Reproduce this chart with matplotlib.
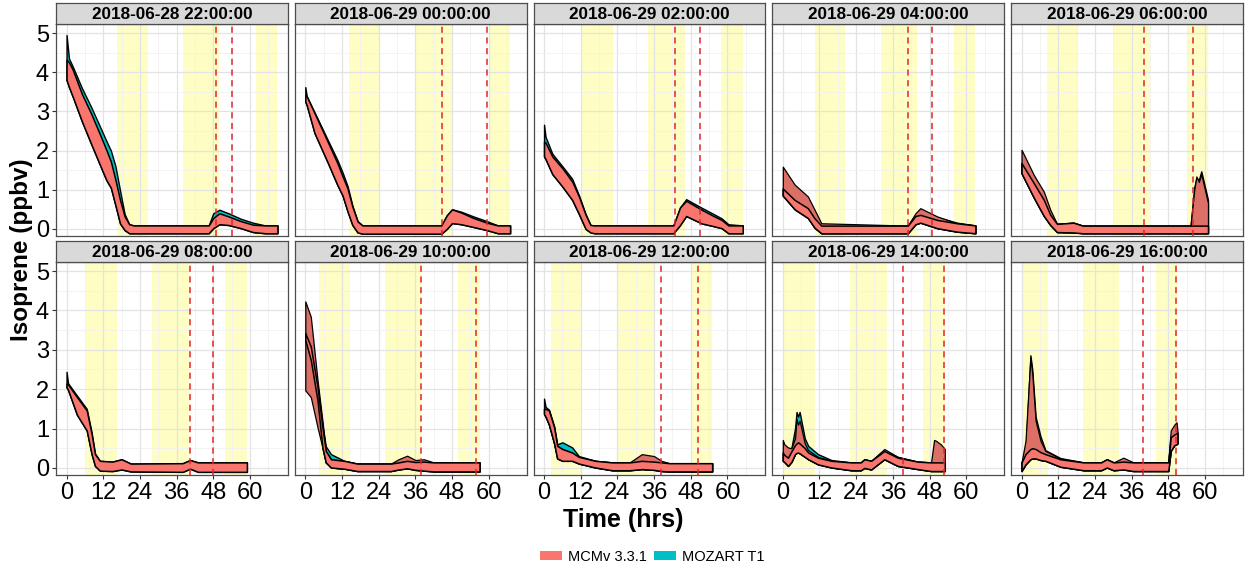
import numpy as np
import matplotlib
matplotlib.use('Agg')
import matplotlib.pyplot as plt
from matplotlib.patches import Patch

plt.rcParams['font.family'] = ['Liberation Sans', 'DejaVu Sans']

### data (hours since each run start, isoprene ppbv)

run_starts = ['2018-06-28 22:00:00', '2018-06-29 00:00:00', '2018-06-29 02:00:00',
              '2018-06-29 04:00:00', '2018-06-29 06:00:00', '2018-06-29 08:00:00',
              '2018-06-29 10:00:00', '2018-06-29 12:00:00', '2018-06-29 14:00:00',
              '2018-06-29 16:00:00']
run_offset = [0, 2, 4, 6, 8, 10, 12, 14, 16, 18]      # hours after first run start
run_end = [69, 67, 65, 63, 61, 59, 57, 55, 53, 51]

# daylight periods, hours after first run start
day_start = [16.4, 38.0, 62.0]
day_end = [26.5, 50.0, 74.0]

# red dashed markers (hours since run start)
mark_a = [48.9, 44.6, 43.0, 41.0, 40.1, 40.4, 37.8, 38.1, 39.4, 39.7]
mark_b = [54.0, 59.6, 51.1, 48.9, 56.0, 47.9, 55.7, 50.5, 52.8, 50.5]

times = [
    [0, 0.8, 2, 5, 8, 11, 13, 14.5, 16, 17.5, 19, 20.5, 22, 46.5, 48, 50, 53, 57, 61, 65, 69],
    [0, 0.5, 3, 7.3, 10.5, 12.2, 13.8, 15.4, 17.1, 18.7, 44.5, 46.3, 48, 51, 55, 59.4, 63, 67],
    [0, 0.5, 2.7, 6.0, 9.2, 11.4, 13.6, 15.2, 16.5, 42.3, 44.5, 46.5, 51.6, 55, 58.1, 60.3, 65],
    [0, 3.9, 8.2, 10.4, 12.6, 40.9, 43.4, 45, 50.5, 57, 63],
    [0, 4.0, 7.3, 9.4, 11.6, 17, 20, 55.3, 56.5, 57.2, 58.0, 58.8, 61],
    [0, 0.5, 3.4, 6.6, 8.2, 9.3, 10.9, 15, 18, 21, 38, 40.4, 43, 59],
    [0, 1.8, 4.0, 5.6, 6.7, 8.4, 12.7, 17, 28, 30.5, 33.3, 36, 38.8, 42, 57],
    [0, 0.5, 1.6, 3.3, 4.3, 6.0, 9.2, 11.4, 16.8, 22.3, 28, 32, 36, 38.4, 41, 55],
    [0, 0.5, 1.7, 2.8, 4.0, 4.5, 5.0, 5.5, 7.2, 8.3, 11.5, 15.9, 22.4, 25.5, 26.7, 28.9,
     33.2, 37.6, 44.1, 48.5, 49.5, 50.1, 51.7, 53],
    [0, 1.3, 2.9, 3.5, 4.6, 6.2, 7.8, 12.7, 20.3, 26, 27.9, 30.1, 33.3, 36.6, 48, 48.8,
     50, 50.7, 51],
]

# MCMv 3.3.1 band
mcm_lo = [
    [3.80, 3.62, 3.38, 2.75, 2.18, 1.62, 1.25, 1.05, 0.60, 0.14, -0.03, -0.11, -0.11, -0.11,
     0.02, 0.12, 0.10, 0.02, -0.08, -0.11, -0.11],
    [3.25, 3.15, 2.45, 1.70, 1.12, 0.85, 0.45, 0.10, -0.09, -0.12, -0.12, 0.00, 0.15, 0.12,
     0.05, -0.03, -0.11, -0.11],
    [1.85, 1.78, 1.40, 1.08, 0.74, 0.38, 0.00, -0.09, -0.11, -0.11, 0.10, 0.33, 0.14, 0.08,
     0.02, -0.11, -0.11],
    [0.85, 0.50, 0.28, 0.03, -0.11, -0.11, 0.12, 0.16, 0.02, -0.07, -0.11],
    [1.42, 0.80, 0.33, 0.10, -0.08, -0.09, -0.11, -0.11, -0.11, -0.11, -0.11, -0.11, -0.11],
    [2.05, 1.98, 1.35, 0.95, 0.35, 0.05, -0.07, -0.08, -0.04, -0.09, -0.10, -0.02, -0.10, -0.10],
    [3.25, 2.74, 1.71, 0.52, 0.14, 0.01, -0.02, -0.08, -0.08, -0.04, -0.01, -0.05, -0.07,
     -0.09, -0.09],
    [1.37, 1.30, 1.10, 0.62, 0.24, 0.18, 0.18, 0.11, 0.01, -0.06, -0.06, -0.03, -0.05, -0.08,
     -0.09, -0.09],
    [0.18, 0.15, 0.05, 0.15, 0.35, 0.38, 0.39, 0.37, 0.28, 0.22, 0.09, 0.01, -0.06, -0.06,
     0.0, -0.04, 0.22, 0.05, -0.03, -0.08, -0.08, -0.08, -0.08, -0.08],
    [-0.08, 0.09, 0.22, 0.24, 0.24, 0.20, 0.18, 0.03, -0.06, -0.06, 0.01, -0.06, -0.04, -0.08,
     -0.08, 0.43, 0.58, 0.60, 0.62],
]
mcm_hi = [
    [4.32, 4.25, 4.07, 3.45, 2.95, 2.40, 2.02, 1.72, 1.25, 0.74, 0.32, 0.12, 0.09, 0.09,
     0.28, 0.40, 0.32, 0.20, 0.11, 0.09, 0.09],
    [3.40, 3.38, 2.96, 2.23, 1.68, 1.34, 1.04, 0.57, 0.19, 0.09, 0.09, 0.35, 0.50, 0.42,
     0.28, 0.16, 0.09, 0.09],
    [2.23, 2.20, 1.85, 1.55, 1.21, 0.83, 0.36, 0.10, 0.09, 0.09, 0.55, 0.72, 0.49, 0.35,
     0.23, 0.09, 0.09],
    [1.03, 0.74, 0.53, 0.27, 0.085, 0.085, 0.33, 0.36, 0.23, 0.145, 0.09],
    [1.68, 1.17, 0.74, 0.36, 0.13, 0.16, 0.085, 0.085, 0.085, 0.085, 0.085, 0.085, 0.085],
    [2.14, 2.12, 1.80, 1.46, 0.86, 0.35, 0.18, 0.16, 0.22, 0.11, 0.12, 0.20, 0.14, 0.14],
    [3.42, 3.08, 2.05, 1.03, 0.43, 0.22, 0.18, 0.11, 0.11, 0.14, 0.18, 0.15, 0.16, 0.14, 0.14],
    [1.50, 1.50, 1.46, 1.03, 0.56, 0.48, 0.39, 0.28, 0.18, 0.14, 0.14, 0.18, 0.16, 0.14,
     0.12, 0.12],
    [0.39, 0.33, 0.26, 0.42, 0.58, 0.62, 0.65, 0.62, 0.50, 0.39, 0.26, 0.18, 0.14, 0.14,
     0.22, 0.18, 0.43, 0.26, 0.16, 0.14, 0.14, 0.14, 0.14, 0.14],
    [0.14, 0.35, 0.48, 0.50, 0.48, 0.40, 0.35, 0.22, 0.14, 0.14, 0.22, 0.14, 0.16, 0.14,
     0.14, 0.78, 0.85, 0.88, 0.90],
]
# MCM run spread (outer envelope), None where it stays inside the band
mcm_env_lo = [None, None, None, None, None, None,
              [1.97, 1.80, 1.03, 0.52, 0.14, 0.01, -0.02, -0.08, -0.08, -0.04, -0.01, -0.05,
               -0.07, -0.09, -0.09],
              None, None, None]
mcm_env_hi = [
    None, None, None,
    [1.59, 1.13, 0.83, 0.49, 0.145, 0.085, 0.40, 0.53, 0.32, 0.145, 0.09],
    [2.02, 1.38, 0.95, 0.49, 0.13, 0.16, 0.085, 0.085, 1.00, 1.34, 1.20, 1.40, 0.66],
    None,
    [4.23, 3.84, 2.23, 1.20, 0.43, 0.22, 0.18, 0.11, 0.11, 0.22, 0.31, 0.20, 0.22, 0.14, 0.14],
    [1.50, 1.50, 1.46, 1.03, 0.56, 0.48, 0.39, 0.28, 0.18, 0.14, 0.14, 0.35, 0.30, 0.18,
     0.12, 0.12],
    [0.71, 0.60, 0.52, 0.50, 0.75, 1.25, 1.10, 1.20, 0.62, 0.45, 0.28, 0.18, 0.14, 0.14,
     0.22, 0.18, 0.48, 0.28, 0.16, 0.14, 0.71, 0.69, 0.60, 0.48],
    [0.14, 0.69, 2.80, 2.40, 1.20, 0.69, 0.43, 0.24, 0.14, 0.14, 0.22, 0.14, 0.26, 0.14,
     0.14, 0.95, 1.10, 1.16, 0.95],
]
# MOZART T1 upper edge (lower edge follows the MCM band)
moz_hi = [
    [4.95, 4.35, 4.15, 3.60, 3.12, 2.60, 2.25, 2.00, 1.60, 0.98, 0.38, 0.12, 0.09, 0.09,
     0.40, 0.49, 0.40, 0.26, 0.16, 0.09, 0.09],
    [3.62, 3.38, 2.98, 2.28, 1.76, 1.44, 1.10, 0.60, 0.20, 0.09, 0.09, 0.35, 0.50, 0.44,
     0.32, 0.20, 0.09, 0.09],
    [2.66, 2.35, 1.92, 1.60, 1.28, 0.86, 0.38, 0.10, 0.09, 0.09, 0.55, 0.76, 0.54, 0.40,
     0.27, 0.12, 0.09],
    [1.03, 0.74, 0.53, 0.27, 0.085, 0.085, 0.36, 0.45, 0.30, 0.16, 0.09],
    [1.68, 1.17, 0.74, 0.36, 0.13, 0.16, 0.085, 0.085, 1.05, 1.30, 1.25, 1.47, 0.74],
    [2.44, 2.15, 1.84, 1.50, 0.90, 0.37, 0.18, 0.16, 0.22, 0.11, 0.12, 0.20, 0.14, 0.14],
    [3.42, 3.10, 2.10, 1.10, 0.55, 0.35, 0.18, 0.11, 0.11, 0.14, 0.18, 0.15, 0.16, 0.14, 0.14],
    [1.76, 1.55, 1.48, 1.06, 0.60, 0.65, 0.52, 0.30, 0.18, 0.14, 0.14, 0.18, 0.16, 0.14,
     0.12, 0.12],
    [0.39, 0.33, 0.26, 0.50, 1.00, 1.42, 1.30, 1.42, 0.75, 0.56, 0.35, 0.20, 0.14, 0.14,
     0.22, 0.18, 0.45, 0.28, 0.16, 0.14, 0.14, 0.14, 0.14, 0.14],
    [0.14, 0.40, 2.86, 2.50, 1.30, 0.80, 0.45, 0.25, 0.14, 0.14, 0.22, 0.14, 0.16, 0.14,
     0.14, 0.78, 0.95, 0.92, 0.85],
]

x_ticks = [0, 12, 24, 36, 48, 60]
y_ticks = [0, 1, 2, 3, 4, 5]

MCM_COL = '#F8766D'
MCM_DARK = '#DC6F66'
MOZ_COL = '#00BFC4'
DAY_COL = '#FEFEC4'

### layout (pixels)
W, H = 1245, 571
fig = plt.figure(figsize=(W / 100, H / 100), dpi=100)

def px_axes(left, top, width, height):
    return fig.add_axes([left / W, 1 - (top + height) / H, width / W, height / H])

panel_w, gap = 232, 6.75
plot_top = [24, 262]
plot_h = [212, 213]
strip_top = [3, 241]
strip_h = 21

for i in range(10):
    row, col = divmod(i, 5)
    left = 56 + col * (panel_w + gap)
    ax = px_axes(left, plot_top[row], panel_w, plot_h[row])
    t = np.array(times[i])
    end = run_end[i]

    # daylight shading
    for s, e in zip(day_start, day_end):
        s0 = max(s - run_offset[i], 0)
        e0 = min(e - run_offset[i], end)
        if e0 > s0:
            ax.axvspan(s0, e0, color=DAY_COL, lw=0, zorder=0.2)

    ax.fill_between(t, mcm_lo[i], moz_hi[i], facecolor=MOZ_COL, edgecolor='black',
                    linewidth=1.0, zorder=2)
    if mcm_env_hi[i] is not None:
        env_lo = mcm_env_lo[i] if mcm_env_lo[i] is not None else mcm_lo[i]
        ax.fill_between(t, env_lo, mcm_env_hi[i], facecolor=MCM_DARK, edgecolor='black',
                        linewidth=0.9, zorder=3)
    ax.fill_between(t, mcm_lo[i], mcm_hi[i], facecolor=MCM_COL, edgecolor='black',
                    linewidth=1.1, zorder=4)

    for xm in (mark_a[i], mark_b[i]):
        ax.axvline(xm, color='#E3242B', lw=1.1, ls=(0, (4, 3)), zorder=5)

    ax.set_xlim(-3.45, 72.45)
    ax.set_ylim(-0.18, 5.23)
    ax.set_xticks(x_ticks)
    ax.set_xticks(np.arange(6, 72, 12), minor=True)
    ax.set_yticks(y_ticks)
    ax.set_yticks(np.arange(0.5, 5.0, 1.0), minor=True)
    ax.set_axisbelow(True)
    ax.grid(which='major', color='#E3E3E3', lw=0.9)
    ax.grid(which='minor', color='#F1F1F1', lw=0.6)
    for sp in ax.spines.values():
        sp.set_color('#4D4D4D')
        sp.set_linewidth(0.9)
    ax.tick_params(which='minor', length=0)
    ax.tick_params(which='major', length=3, color='#333333', labelsize=17, pad=2)
    if col != 0:
        ax.tick_params(axis='y', which='major', length=0, labelleft=False)
    if row != 1:
        ax.tick_params(axis='x', which='major', length=0, labelbottom=False)

    # facet strip
    sax = px_axes(left, strip_top[row], panel_w, strip_h)
    sax.set_facecolor('#D9D9D9')
    sax.set_xticks([])
    sax.set_yticks([])
    for sp in sax.spines.values():
        sp.set_color('#4D4D4D')
        sp.set_linewidth(0.9)
    sax.text(0.5, 0.47, run_starts[i], ha='center', va='center', fontsize=12.3,
             fontweight='bold', transform=sax.transAxes)

fig.text(22 / W, 1 - 250 / H, 'Isoprene (ppbv)', rotation=90, ha='center', va='center',
         fontsize=17.5, fontweight='bold')
fig.text(623 / W, 1 - 520 / H, 'Time (hrs)', ha='center', va='center',
         fontsize=18, fontweight='bold')

handles = [Patch(facecolor=MCM_COL, edgecolor='none'), Patch(facecolor=MOZ_COL, edgecolor='none')]
fig.legend(handles, ['MCMv 3.3.1', 'MOZART T1'], loc='center', ncol=2, frameon=False,
           bbox_to_anchor=(652 / W, 1 - 557 / H), fontsize=10.5, handlelength=1.5,
           handleheight=0.6, columnspacing=0.5, handletextpad=0.4)

fig.savefig('out.png', dpi=100)
